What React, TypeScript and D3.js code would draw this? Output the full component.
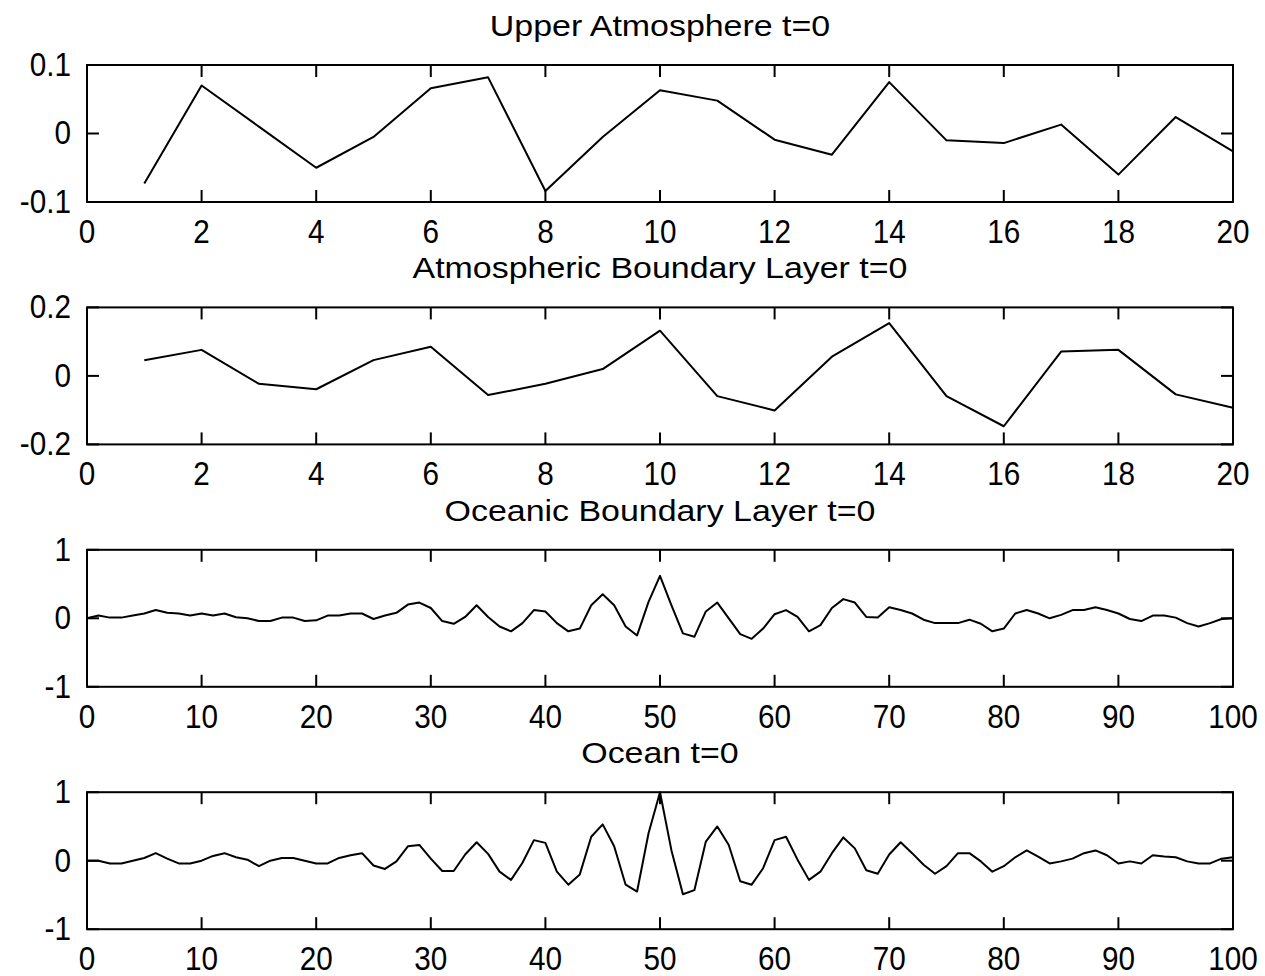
import React from 'react';
import * as d3 from 'd3';

// values, one per grid point
const UPPER_ATMOSPHERE = [
  -0.073, 0.07, 0.01, -0.05, -0.005, 0.066, 0.082, -0.084, -0.005, 0.063,
  0.048, -0.009, -0.031, 0.075, -0.01, -0.014, 0.013, -0.06, 0.024, -0.026
];

const ATMOS_BOUNDARY_LAYER = [
  0.046, 0.076, -0.023, -0.039, 0.046, 0.085, -0.056, -0.023, 0.02, 0.132,
  -0.059, -0.101, 0.056, 0.154, -0.059, -0.147, 0.071, 0.076, -0.054, -0.093
];

const OCEAN_BOUNDARY_LAYER = [
  0, 0.04, 0.01, 0.01, 0.04, 0.07, 0.12, 0.08, 0.07, 0.04,
  0.07, 0.04, 0.07, 0.015, 0, -0.04, -0.04, 0.01, 0.01, -0.04,
  -0.03, 0.04, 0.04, 0.07, 0.07, -0.01, 0.04, 0.08, 0.2, 0.23,
  0.15, -0.04, -0.08, 0.02, 0.19, 0.02, -0.12, -0.19, -0.07, 0.12,
  0.1, -0.07, -0.19, -0.15, 0.19, 0.35, 0.19, -0.12, -0.25, 0.24,
  0.62, 0.19, -0.22, -0.27, 0.1, 0.23, 0, -0.23, -0.3, -0.15,
  0.06, 0.12, 0.02, -0.19, -0.1, 0.15, 0.28, 0.23, 0.02, 0.01,
  0.16, 0.12, 0.07, -0.02, -0.07, -0.07, -0.07, -0.02, -0.08, -0.19,
  -0.15, 0.07, 0.12, 0.07, 0, 0.05, 0.12, 0.12, 0.16, 0.12,
  0.07, -0.01, -0.04, 0.04, 0.04, 0.01, -0.07, -0.12, -0.07, -0.01,
  0
];

const OCEAN = [
  0, 0, -0.04, -0.04, 0, 0.04, 0.11, 0.03, -0.04, -0.04,
  0, 0.07, 0.11, 0.05, 0.015, -0.08, 0, 0.04, 0.04, 0,
  -0.04, -0.04, 0.04, 0.08, 0.11, -0.07, -0.12, -0.01, 0.21, 0.23,
  0.03, -0.15, -0.15, 0.09, 0.27, 0.1, -0.16, -0.28, -0.03, 0.3,
  0.26, -0.16, -0.35, -0.2, 0.35, 0.53, 0.21, -0.35, -0.45, 0.4,
  1.0, 0.15, -0.49, -0.43, 0.28, 0.5, 0.23, -0.3, -0.35, -0.11,
  0.3, 0.35, 0.015, -0.28, -0.16, 0.11, 0.34, 0.18, -0.14, -0.19,
  0.09, 0.27, 0.11, -0.06, -0.19, -0.08, 0.11, 0.11, -0.01, -0.16,
  -0.08, 0.05, 0.15, 0.06, -0.04, -0.01, 0.03, 0.11, 0.15, 0.08,
  -0.04, -0.01, -0.04, 0.08, 0.06, 0.05, -0.01, -0.04, -0.04, 0.03,
  0.05
];

const TITLES = [
  'Upper Atmosphere t=0',
  'Atmospheric Boundary Layer t=0',
  'Oceanic Boundary Layer t=0',
  'Ocean t=0'
];
const SERIES = [UPPER_ATMOSPHERE, ATMOS_BOUNDARY_LAYER, OCEAN_BOUNDARY_LAYER, OCEAN];
const FIRST_X = [1, 1, 0, 0];
const X_DOMAINS = [[0, 20], [0, 20], [0, 100], [0, 100]];
const Y_DOMAINS = [[-0.1, 0.1], [-0.2, 0.2], [-1, 1], [-1, 1]];

const WIDTH = 1265;
const HEIGHT = 976;
const LEFT = 87;
const RIGHT = 1233;
const FIRST_TOP = 65;
const ROW_STEP = 242.4;
const PANEL_H = 137;
const TICK_LEN = 12;
const FONT = '"Liberation Sans", Arial, sans-serif';

// narrow the tick labels a little, like the reference's screen font
const squeeze = (cx: number, k: number) =>
  `translate(${cx},0) scale(${k},1) translate(${-cx},0)`;

function Panel({index}: {index: number}) {
  const top = FIRST_TOP + index * ROW_STEP;
  const bottom = top + PANEL_H;
  const values = SERIES[index];

  const x = d3.scaleLinear().domain(X_DOMAINS[index]).range([LEFT, RIGHT]);
  const y = d3.scaleLinear().domain(Y_DOMAINS[index]).range([bottom, top]);

  const line = d3.line<number>()
    .x((d, i) => x(FIRST_X[index] + i))
    .y(d => y(d));

  const xTicks = x.ticks(10);
  const yTicks = y.ticks(2);
  const fmt = (v: number) => (Math.abs(v) < 1e-12 ? '0' : String(+v.toFixed(6)));
  const mid = (LEFT + RIGHT) / 2;

  return (
    <g>
      <text x={mid} y={top - 29} fontSize={29} textAnchor="middle"
        transform={squeeze(mid, 1.17)}>
        {TITLES[index]}
      </text>
      <path d={line(values) || ''} fill="none" stroke="#000" strokeWidth={2}
        strokeLinejoin="round"/>
      {xTicks.map(t => (
        <g key={'x' + t}>
          <line x1={x(t)} x2={x(t)} y1={bottom} y2={bottom - TICK_LEN} stroke="#000" strokeWidth={2}/>
          <line x1={x(t)} x2={x(t)} y1={top} y2={top + TICK_LEN} stroke="#000" strokeWidth={2}/>
          <text x={x(t)} y={bottom + 41} fontSize={33} textAnchor="middle"
            transform={squeeze(x(t), 0.9)}>{fmt(t)}</text>
        </g>
      ))}
      {yTicks.map(t => (
        <g key={'y' + t}>
          <line x1={LEFT} x2={LEFT + TICK_LEN} y1={y(t)} y2={y(t)} stroke="#000" strokeWidth={2}/>
          <line x1={RIGHT} x2={RIGHT - TICK_LEN} y1={y(t)} y2={y(t)} stroke="#000" strokeWidth={2}/>
          <text x={LEFT - 16} y={y(t) + 11} fontSize={33} textAnchor="end"
            transform={squeeze(LEFT - 16, 0.9)}>{fmt(t)}</text>
        </g>
      ))}
      <rect x={LEFT} y={top} width={RIGHT - LEFT} height={PANEL_H} fill="none"
        stroke="#000" strokeWidth={2}/>
    </g>
  );
}

export default function App() {
  return (
    <svg width={WIDTH} height={HEIGHT} fontFamily={FONT}
      style={{position: 'absolute', left: 0, top: 0, background: '#fff'}}>
      <rect width={WIDTH} height={HEIGHT} fill="#fff"/>
      {SERIES.map((s, i) => <Panel key={i} index={i}/>)}
    </svg>
  );
}
